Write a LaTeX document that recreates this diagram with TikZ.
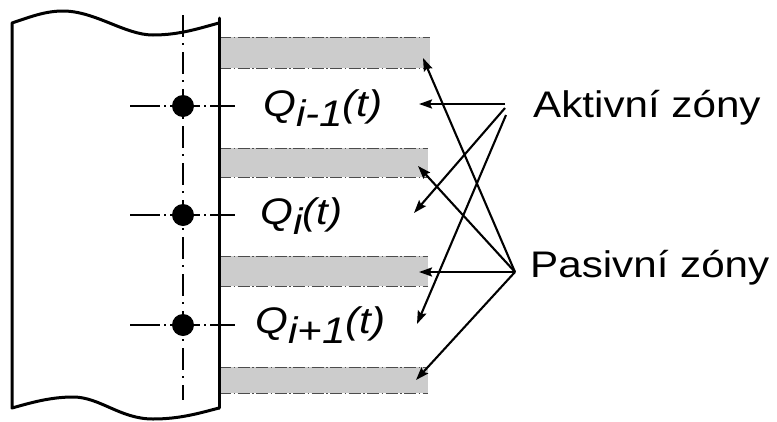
\documentclass[tikz,border=0pt]{standalone}
\usepackage{fontspec}
\setmainfont{Liberation Sans}
\usetikzlibrary{arrows.meta}
\tikzset{
  plate/.style={line width=3pt, line join=round, line cap=round},
  axisline/.style={line width=2.5pt, dash pattern=on 22pt off 6pt on 2pt off 7pt},
  rowaxis/.style={line width=2.5pt, dash pattern=on 30pt off 4pt on 2pt off 4pt},
  band/.style={fill=black!20, draw=none},
  bandedge/.style={draw=black!70, line width=1pt, dash pattern=on 12pt off 2.5pt on 1.5pt off 2.5pt},
  pointer/.style={line width=2.1pt, -{Stealth[length=13pt,width=9pt,inset=2pt]}},
  dotnode/.style={circle, fill=black, inner sep=0pt, minimum size=22pt},
  lbl/.style={inner sep=0pt, anchor=base west, font=\fontsize{37}{40}\selectfont},
  qlbl/.style={lbl, font=\fontsize{37}{40}\selectfont\itshape},
}
\newcommand{\wide}[1]{\scalebox{1.14}[1]{#1}}
\newcommand{\qsub}[2]{\wide{Q\raisebox{-10pt}{#1}#2}}
\begin{document}
\begin{tikzpicture}[x=1pt, y=-1pt]
  \useasboundingbox (0,0) rectangle (777,421);

  % shaded passive bands with dash-dot borders
  \foreach \ya/\yb/\xe in {37/68/430, 148/177/428, 256/286/428, 367/393/428} {
    \fill[band] (219,\ya) rectangle (\xe,\yb);
    \draw[bandedge] (219,\ya) -- (\xe,\ya);
    \draw[bandedge] (219,\yb) -- (\xe,\yb);
  }

  % centre line of the plate and axes of the rows
  \draw[axisline] (183,15) -- (183,400);
  \foreach \y in {106,215,325} {
    \draw[rowaxis] (130,\y) -- (235,\y);
  }
  \node[dotnode] (d1) at (183,106) {};
  \node[dotnode] (d2) at (183,215) {};
  \node[dotnode] (d3) at (183,325) {};

  % broken-off plate
  \draw[plate] (219,408) .. controls (200,413) and (180,419) .. (153,419)
    .. controls (120,419) and (100,397) .. (73,397)
    .. controls (50,397) and (30,403) .. (12,408)
    -- (12,23) .. controls (30,17) and (45,11) .. (63,11)
    .. controls (95,11) and (125,35) .. (153,35)
    .. controls (180,35) and (200,28) .. (219,23);
  \draw[plate] (219,18) -- (219,408);

  % row labels
  \node[qlbl] (q1) at (263,116) {\qsub{i-1}{(t)}};
  \node[qlbl] (q2) at (260,224) {\qsub{i}{(t)}};
  \node[qlbl] (q3) at (255,333) {\qsub{i+1}{(t)}};

  % zone labels
  \node[lbl] (act) at (533,117) {\wide{Aktivní zóny}};
  \node[lbl] (pas) at (530,277) {\wide{Pasivní zóny}};

  % arrow origins and tips
  \coordinate (a0) at (505,104);
  \coordinate (a1) at (505,108);
  \coordinate (a2) at (506,115);
  \coordinate (p0) at (515,272);
  \coordinate (ta1) at (419,104);
  \coordinate (ta2) at (414,213);
  \coordinate (ta3) at (417,324);
  \coordinate (tb1) at (423,58);
  \coordinate (tb2) at (418,166);
  \coordinate (tb3) at (419,272);
  \coordinate (tb4) at (416,380);

  \draw[pointer] (a0) -- (ta1);
  \draw[pointer] (a1) -- (ta2);
  \draw[pointer] (a2) -- (ta3);
  \draw[pointer] (p0) -- (tb1);
  \draw[pointer] (p0) -- (tb2);
  \draw[pointer] (p0) -- (tb3);
  \draw[pointer] (p0) -- (tb4);
\end{tikzpicture}
\end{document}
